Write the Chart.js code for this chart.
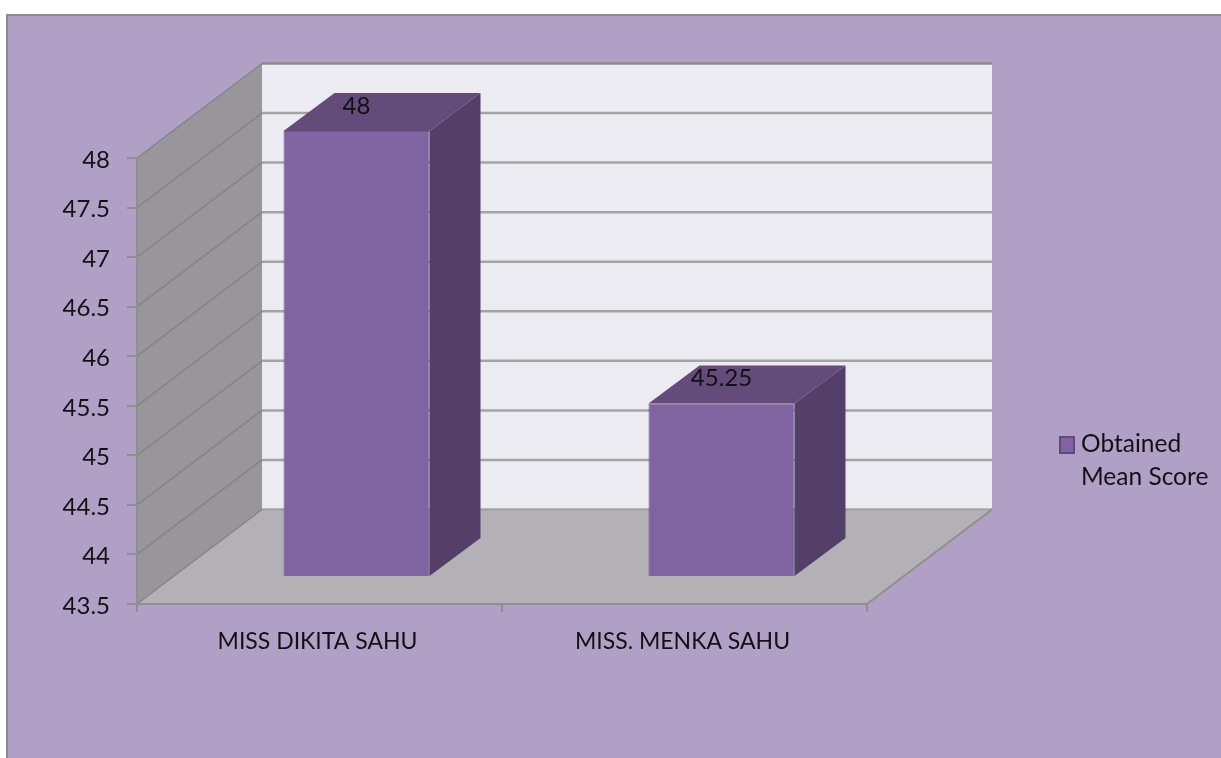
<!DOCTYPE html>
<html>
<head>
<meta charset="utf-8">
<title>Obtained Mean Score</title>
<style>
  html, body { margin: 0; padding: 0; background: #fff; }
  canvas { display: block; }
</style>
<script src="https://cdn.jsdelivr.net/npm/chart.js@4/dist/chart.umd.min.js"></script>
</head>
<body>
<canvas id="meanScore" width="1221" height="758"></canvas>
<script>
var categories = ["MISS DIKITA SAHU", "MISS. MENKA SAHU"];
var seriesName = "Obtained Mean Score";
var seriesValues = [48, 45.25];
var valueLabels = ["48", "45.25"];
var legendLines = ["Obtained", "Mean Score"];
var yMin = 43.5;
var yMax = 48;
var yStep = 0.5;

var FONT = "Lato, 'Open Sans', sans-serif";
var TEXT = "#121016";
// depth of the fake 3d box, back wall and bars
var WALL_DX = 125, WALL_DY = -94.5;
var BAR_SHIFT_X = 37, BAR_SHIFT_Y = -27;
var BAR_DX = 51, BAR_DY = -38;

function poly(ctx, pts, fill, stroke, lw) {
    ctx.beginPath();
    ctx.moveTo(pts[0][0], pts[0][1]);
    for (var i = 1; i < pts.length; i++) ctx.lineTo(pts[i][0], pts[i][1]);
    ctx.closePath();
    if (fill) { ctx.fillStyle = fill; ctx.fill(); }
    if (stroke) { ctx.strokeStyle = stroke; ctx.lineWidth = lw || 1; ctx.stroke(); }
}

function line(ctx, x1, y1, x2, y2, color, lw) {
    ctx.beginPath();
    ctx.moveTo(x1, y1);
    ctx.lineTo(x2, y2);
    ctx.strokeStyle = color;
    ctx.lineWidth = lw;
    ctx.stroke();
}

var box3d = {
    id: "box3d",
    beforeDraw: function(chart) {
        var ctx = chart.ctx, a = chart.chartArea, y = chart.scales.y;
        ctx.save();
        // panel
        ctx.fillStyle = "#B0A0C6";
        ctx.fillRect(7, 15, 1214, 743);
        line(ctx, 6, 15, 1221, 15, "#8b8b8b", 2);
        line(ctx, 7, 15, 7, 758, "#8b8b8b", 2);
        // back wall
        poly(ctx, [[a.left + WALL_DX, a.top + WALL_DY], [a.right + WALL_DX, a.top + WALL_DY],
            [a.right + WALL_DX, a.bottom + WALL_DY], [a.left + WALL_DX, a.bottom + WALL_DY]], "#EDEBF2");
        // side wall
        poly(ctx, [[a.left, a.top], [a.left + WALL_DX, a.top + WALL_DY],
            [a.left + WALL_DX, a.bottom + WALL_DY], [a.left, a.bottom]], "#98969B");
        // floor
        poly(ctx, [[a.left, a.bottom], [a.right, a.bottom],
            [a.right + WALL_DX, a.bottom + WALL_DY], [a.left + WALL_DX, a.bottom + WALL_DY]], "#B3B1B6");
        // grid lines on both walls
        y.ticks.forEach(function(t) {
            var py = y.getPixelForValue(t.value);
            line(ctx, a.left, py, a.left + WALL_DX, py + WALL_DY, "#858585", 1.5);
            line(ctx, a.left + WALL_DX, py + WALL_DY, a.right + WALL_DX, py + WALL_DY, t.value === yMax ? "#8b8b8b" : "#a3a3a3", 2.5);
        });
        line(ctx, a.right, a.bottom, a.right + WALL_DX, a.bottom + WALL_DY, "#8f8f8f", 2);
        ctx.restore();
    },
    beforeDatasetsDraw: function(chart) {
        var ctx = chart.ctx;
        ctx.save();
        ctx.translate(BAR_SHIFT_X, BAR_SHIFT_Y);
        // top and side faces come from the bar elements
        chart.getDatasetMeta(0).data.forEach(function(bar) {
            var l = bar.x - bar.width / 2, r = bar.x + bar.width / 2;
            poly(ctx, [[l, bar.y], [l + BAR_DX, bar.y + BAR_DY], [r + BAR_DX, bar.y + BAR_DY], [r, bar.y]], "#634C7A");
            poly(ctx, [[r, bar.y], [r + BAR_DX, bar.y + BAR_DY], [r + BAR_DX, bar.base + BAR_DY], [r, bar.base]], "#543F69");
        });
    },
    afterDatasetsDraw: function(chart) {
        var ctx = chart.ctx;
        ctx.restore();
        ctx.save();
        ctx.font = "24px " + FONT;
        ctx.fillStyle = TEXT;
        ctx.textAlign = "center";
        ctx.textBaseline = "middle";
        chart.getDatasetMeta(0).data.forEach(function(bar, i) {
            ctx.fillText(valueLabels[i], bar.x + BAR_SHIFT_X, bar.y + BAR_SHIFT_Y - 25);
        });
        // legend
        ctx.fillStyle = "#8063A1";
        ctx.strokeStyle = "#5F4A7C";
        ctx.lineWidth = 2;
        ctx.fillRect(1060, 437, 14, 16);
        ctx.strokeRect(1060, 437, 14, 16);
        ctx.fillStyle = TEXT;
        ctx.textAlign = "left";
        ctx.font = "24.5px " + FONT;
        legendLines.forEach(function(s, i) {
            ctx.fillText(s, 1081, 444 + i * 33);
        });
        ctx.restore();
    }
};

var chart = new Chart(document.getElementById("meanScore"), {
    type: "bar",
    data: {
        labels: categories,
        datasets: [{
            label: seriesName,
            data: seriesValues,
            base: yMin,
            backgroundColor: "#8063A1",
            borderColor: "#6F5690",
            borderWidth: 1,
            barPercentage: 0.4,
            categoryPercentage: 1,
            clip: false
        }]
    },
    options: {
        responsive: false,
        animation: false,
        layout: { padding: { left: 0, top: 158, right: 354, bottom: 0 } },
        plugins: {
            legend: { display: false },
            tooltip: { enabled: false }
        },
        scales: {
            x: {
                afterFit: function(scale) { scale.height = 154; },
                border: { color: "#8f8f8f", width: 2 },
                grid: { drawOnChartArea: false, color: "#8f8f8f", lineWidth: 2, tickLength: 8 },
                ticks: { color: TEXT, padding: 16, labelOffset: -2, maxRotation: 0, font: { family: FONT, size: 23 } }
            },
            y: {
                min: yMin,
                max: yMax,
                afterFit: function(scale) { scale.width = 137; },
                border: { color: "#8f8f8f", width: 2 },
                grid: { drawOnChartArea: false, color: "#8f8f8f", lineWidth: 2, tickLength: 10 },
                ticks: {
                    stepSize: yStep,
                    color: TEXT,
                    padding: 17,
                    labelOffset: 2,
                    font: { family: FONT, size: 24 },
                    callback: function(v) { return String(v); }
                }
            }
        }
    },
    plugins: [box3d]
});
</script>
</body>
</html>
